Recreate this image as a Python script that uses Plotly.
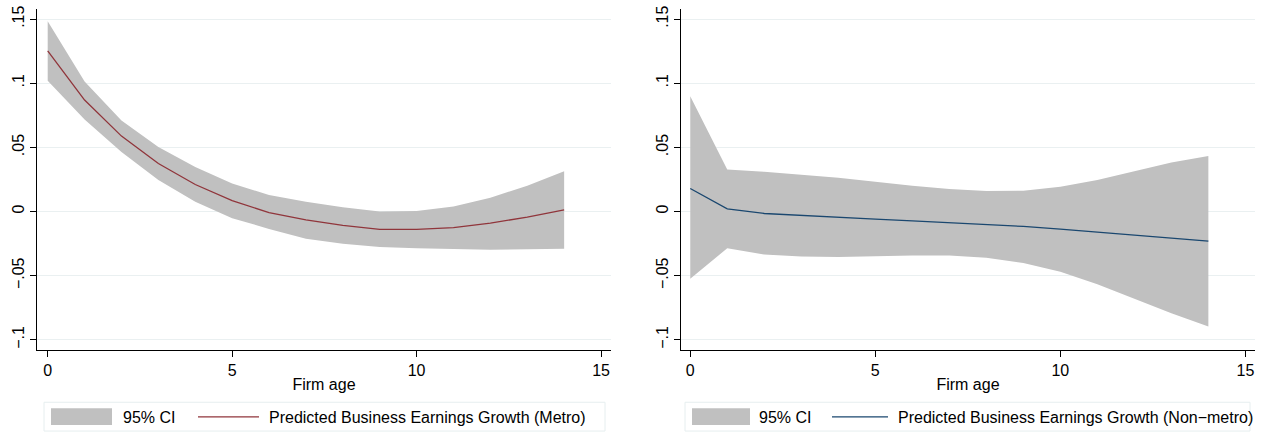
import plotly.graph_objects as go

# ---------------- data ----------------
ages = list(range(15))

metro_pred = [0.1252, 0.0869, 0.0588, 0.0374, 0.0211, 0.0085, -0.0008, -0.0064,
              -0.0108, -0.0139, -0.0139, -0.0126, -0.0090, -0.0044, 0.0013]
metro_upper = [0.1484, 0.1014, 0.0710, 0.0503, 0.0348, 0.0219, 0.0129, 0.0077,
               0.0033, 0.0000, 0.0005, 0.0039, 0.0108, 0.0201, 0.0315]
metro_lower = [0.1019, 0.0717, 0.0464, 0.0245, 0.0077, -0.0052, -0.0135, -0.0211,
               -0.0250, -0.0276, -0.0286, -0.0294, -0.0297, -0.0294, -0.0289]

nonmetro_pred = [0.0180, 0.0021, -0.0015, -0.0031, -0.0046, -0.0059, -0.0072, -0.0085,
                 -0.0098, -0.0116, -0.0137, -0.0160, -0.0183, -0.0207, -0.0230]
nonmetro_upper = [0.0898, 0.0328, 0.0310, 0.0289, 0.0263, 0.0232, 0.0201, 0.0176,
                  0.0160, 0.0163, 0.0193, 0.0245, 0.0315, 0.0382, 0.0433]
nonmetro_lower = [-0.0524, -0.0286, -0.0335, -0.0351, -0.0354, -0.0348, -0.0343, -0.0343,
                  -0.0361, -0.0400, -0.0470, -0.0567, -0.0679, -0.0792, -0.0895]

x_tickvals = [0, 5, 10, 15]
y_tickvals = [-0.1, -0.05, 0, 0.05, 0.1, 0.15]
y_ticktext = ["\u2212.1", "\u2212.05", "0", ".05", ".1", ".15"]

ci_label = "95% CI"
metro_label = "Predicted Business Earnings Growth (Metro)"
nonmetro_label = "Predicted Business Earnings Growth (Non\u2212metro)"
x_title = "Firm age"

# ---------------- styling ----------------
W, H = 1268, 438
FONT = "Liberation Sans, Arial, Helvetica, sans-serif"
BAND = "#C0C0C0"
MAROON = "#90353B"
NAVY = "#1A476F"
GRID = "#EAF0F1"
LEGBORDER = "#E6EEEF"


def px(x):
    return x / W


def py(y):
    return 1 - y / H


fig = go.Figure()

panels = [
    ("x", "y", metro_upper, metro_lower, metro_pred, MAROON),
    ("x2", "y2", nonmetro_upper, nonmetro_lower, nonmetro_pred, NAVY),
]
for xa, ya, up, lo, pred, col in panels:
    fig.add_trace(go.Scatter(x=ages, y=lo, mode="lines", line=dict(width=0, color=BAND),
                             xaxis=xa, yaxis=ya, showlegend=False, hoverinfo="skip"))
    fig.add_trace(go.Scatter(x=ages, y=up, mode="lines", line=dict(width=0, color=BAND),
                             fill="tonexty", fillcolor=BAND, xaxis=xa, yaxis=ya,
                             showlegend=False, name=ci_label))
    fig.add_trace(go.Scatter(x=ages, y=pred, mode="lines", line=dict(width=1.3, color=col),
                             xaxis=xa, yaxis=ya, showlegend=False))

xcommon = dict(tickvals=x_tickvals, showline=True, linecolor="black", linewidth=1,
               ticks="outside", ticklen=6, tickwidth=1, tickcolor="black",
               showgrid=False, zeroline=False,
               tickfont=dict(family=FONT, size=16, color="black"),
               title=dict(text=x_title, font=dict(family=FONT, size=16, color="black"), standoff=0))
ycommon = dict(tickvals=y_tickvals, ticktext=y_ticktext, tickangle=-90,
               range=[-0.1076, 0.1579], showline=True, linecolor="black", linewidth=1,
               ticks="outside", ticklen=6, tickwidth=1, tickcolor="black",
               showgrid=True, gridcolor=GRID, gridwidth=1, zeroline=False,
               ticklabeloverflow="allow",
               tickfont=dict(family=FONT, size=16, color="black"),
               domain=[py(349), py(6)])

fig.update_layout(
    width=W, height=H,
    margin=dict(l=0, r=0, t=0, b=0),
    paper_bgcolor="white", plot_bgcolor="white",
    showlegend=False,
    xaxis=dict(domain=[px(37), px(611)], range=[-0.29, 15.27], anchor="y", **xcommon),
    yaxis=dict(anchor="x", **ycommon),
    xaxis2=dict(domain=[px(681), px(1255)], range=[-0.25, 15.26], anchor="y2", **xcommon),
    yaxis2=dict(anchor="x2", **ycommon),
)

# ---------------- legends (drawn as boxes + text) ----------------
legends = [
    dict(box=(44, 605), sw=(51, 112), ci_x=121, ln=(198, 259), txt_x=267, col=MAROON, label=metro_label),
    dict(box=(685, 1250), sw=(692, 750), ci_x=757, ln=(832, 888), txt_x=896, col=NAVY, label=nonmetro_label),
]
shapes = []
annotations = []
for lg in legends:
    shapes.append(dict(type="rect", xref="paper", yref="paper",
                       x0=px(lg["box"][0]), x1=px(lg["box"][1]), y0=py(431), y1=py(402),
                       line=dict(color=LEGBORDER, width=1), fillcolor="white", layer="below"))
    shapes.append(dict(type="rect", xref="paper", yref="paper",
                       x0=px(lg["sw"][0]), x1=px(lg["sw"][1]), y0=py(425), y1=py(408),
                       line=dict(width=0), fillcolor=BAND))
    shapes.append(dict(type="line", xref="paper", yref="paper",
                       x0=px(lg["ln"][0]), x1=px(lg["ln"][1]), y0=py(416.7), y1=py(416.7),
                       line=dict(color=lg["col"], width=1.3)))
    annotations.append(dict(xref="paper", yref="paper", x=px(lg["ci_x"]), y=py(417),
                            xanchor="left", yanchor="middle", showarrow=False, text=ci_label,
                            font=dict(family=FONT, size=16, color="black")))
    annotations.append(dict(xref="paper", yref="paper", x=px(lg["txt_x"]), y=py(417),
                            xanchor="left", yanchor="middle", showarrow=False, text=lg["label"],
                            font=dict(family=FONT, size=16, color="black")))

fig.update_layout(shapes=shapes, annotations=annotations)

# remove the default 8px page margin so the figure fills the window exactly
fig.write_html(
    "out.html",
    config={"displayModeBar": False},
    post_script="document.body.style.margin='0';document.body.style.overflow='hidden';",
)
